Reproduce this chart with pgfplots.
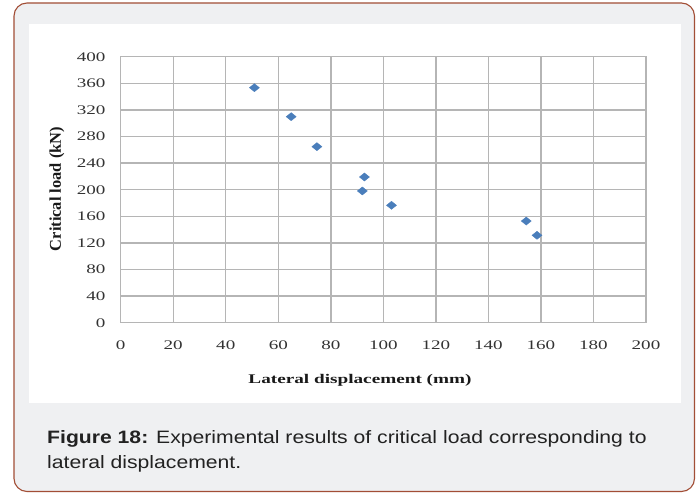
\documentclass[border=0pt]{standalone}
\usepackage{pgfplots}
\pgfplotsset{compat=1.18}
\usepackage{fontspec}
\setmainfont{Liberation Sans}
\newfontfamily\capfont[FakeStretch=1.18]{Liberation Sans}
\newfontfamily\chartfont[FakeStretch=1.45]{Liberation Serif}
\newfontfamily\labelfont{Liberation Serif}
\definecolor{framebrown}{HTML}{A24E36}
\definecolor{panelgray}{HTML}{EFF0F2}
\definecolor{gridgray}{HTML}{B5B5B5}
\definecolor{markblue}{HTML}{4A7EBB}
\definecolor{captext}{HTML}{222222}

\begin{document}
\begin{tikzpicture}
\path[use as bounding box, fill=white] (0,0) rectangle (697bp,493bp);
% card frame and white chart panel
\draw[framebrown, line width=1.1bp, fill=panelgray, rounded corners=13bp]
  (14bp,1.5bp) rectangle (694.5bp,490bp);
\fill[white] (29bp,90bp) rectangle (681bp,469bp);

\begin{axis}[
  at={(120.7bp,170.3bp)}, anchor=south west,
  scale only axis, width=525.3bp, height=266bp,
  xmin=0, xmax=200, ymin=0, ymax=400,
  xtick={0,20,...,200}, ytick={0,40,...,400},
  grid=major,
  major grid style={gridgray, line width=1.4bp},
  axis line style={gridgray, line width=1.4bp},
  major tick length=0pt,
  /pgf/number format/assume math mode=true,
  tick label style={font=\chartfont\fontsize{13.2}{14}\selectfont, text=black!80},
  xticklabel style={inner sep=0pt, anchor=north, yshift=-18bp},
  yticklabel style={inner sep=0pt, anchor=east, xshift=-15bp},
]
\addplot[only marks, mark=diamond*, mark size=4bp,
  mark options={fill=markblue, draw=markblue, xscale=1.667}]
  coordinates {
    (50.9,353.4) (64.9,309.8) (74.7,264.7) (92.8,219.1)
    (92.0,198.1) (103.1,176.5) (154.4,152.9) (158.5,131.4)
  };
\end{axis}

% axis titles
\node[font=\chartfont\bfseries\fontsize{13.3}{14}\selectfont, anchor=base, text=black!90]
  at (360bp,109bp) {Lateral displacement (mm)};
\node[rotate=90, font=\labelfont\bfseries\fontsize{16.5}{17}\selectfont, text=black!90]
  at (57bp,304bp) {Critical load (kN)};

% caption, one node per line
\node[anchor=base west, inner sep=0pt, text=captext,
  font=\capfont\fontsize{18}{24}\selectfont] at (47bp,49bp)
  {\textbf{Figure 18:} Experimental results of critical load corresponding to};
\node[anchor=base west, inner sep=0pt, text=captext,
  font=\capfont\fontsize{18}{24}\selectfont] at (47bp,25bp)
  {lateral displacement.};
\end{tikzpicture}
\end{document}
